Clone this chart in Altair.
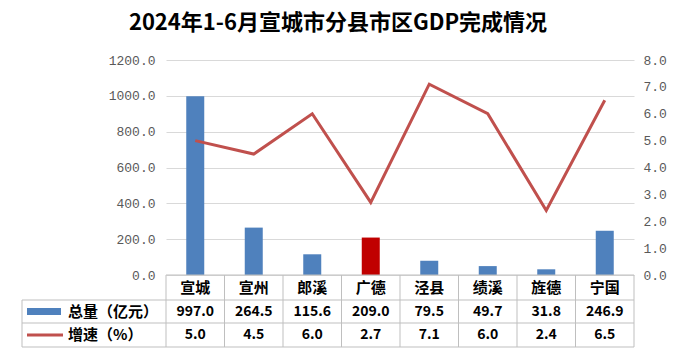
import altair as alt
import pandas as pd

categories = ["宣城", "宣州", "郎溪", "广德", "泾县", "绩溪", "旌德", "宁国"]
totals = [997.0, 264.5, 115.6, 209.0, 79.5, 49.7, 31.8, 246.9]
growth = [5.0, 4.5, 6.0, 2.7, 7.1, 6.0, 2.4, 6.5]
highlight = "广德"
title_text = "2024年1-6月宣城市分县市区GDP完成情况"
row_label_total = "总量（亿元）"
row_label_growth = "增速（%）"

df = pd.DataFrame({"cat": categories, "total": totals, "growth": growth})

W, H = 468, 215
FONT = "Noto Sans CJK SC"
NUMFONT = "Liberation Mono"
BLUE = "#4F81BD"
RED = "#C00000"
LINE = "#C0504D"
GRID = "#D9D9D9"
BORDER = "#BFBFBF"

xs = alt.Scale(domain=categories, paddingInner=0, paddingOuter=0)
X = alt.X("cat:N", scale=xs, sort=categories, axis=None)

one = pd.DataFrame({"a": [0]})

bars = alt.Chart(df).mark_bar(size=18).encode(
    x=X,
    y=alt.Y("total:Q", scale=alt.Scale(domain=[0, 1200]),
            axis=alt.Axis(values=[0, 200, 400, 600, 800, 1000, 1200], format=".1f",
                          title=None, ticks=False, domain=False, grid=True,
                          gridColor=GRID, labelFont=NUMFONT, labelFontSize=13,
                          labelColor="#595959", labelPadding=11)),
    color=alt.condition(alt.datum.cat == highlight, alt.value(RED), alt.value(BLUE)),
)

line = alt.Chart(df).mark_line(color=LINE, strokeWidth=3).encode(
    x=X,
    y=alt.Y("growth:Q", scale=alt.Scale(domain=[0, 8]),
            axis=alt.Axis(orient="right", values=[0, 1, 2, 3, 4, 5, 6, 7, 8], format=".1f",
                          title=None, ticks=False, domain=False, grid=False,
                          labelFont=NUMFONT, labelFontSize=13,
                          labelColor="#595959", labelPadding=9)),
)

# table grid
vlines = alt.Chart(df).mark_rule(color=BORDER, strokeWidth=1).encode(
    x=alt.X("cat:N", scale=xs, sort=categories, axis=None, bandPosition=0),
    y=alt.value(H), y2=alt.value(H + 72),
)
vright = alt.Chart(one).mark_rule(color=BORDER).encode(
    x=alt.value(W), y=alt.value(H), y2=alt.value(H + 72))
vleft = alt.Chart(one).mark_rule(color=BORDER).encode(
    x=alt.value(-144), y=alt.value(H + 25), y2=alt.value(H + 72))
htop = alt.Chart(one).mark_rule(color=BORDER).encode(
    x=alt.value(0), x2=alt.value(W), y=alt.value(H))
h1 = alt.Chart(one).mark_rule(color=BORDER).encode(
    x=alt.value(-144), x2=alt.value(W), y=alt.value(H + 25))
h2 = alt.Chart(one).mark_rule(color=BORDER).encode(
    x=alt.value(-144), x2=alt.value(W), y=alt.value(H + 48))
h3 = alt.Chart(one).mark_rule(color=BORDER).encode(
    x=alt.value(-144), x2=alt.value(W), y=alt.value(H + 72))

cat_text = alt.Chart(df).mark_text(font=FONT, fontSize=15, fontWeight="bold",
                                    color="#000000", baseline="middle").encode(
    x=X, y=alt.value(H + 13), text="cat:N")
tot_text = alt.Chart(df).mark_text(font=FONT, fontSize=14, fontWeight="bold",
                                    color="#000000", baseline="middle").encode(
    x=X, y=alt.value(H + 36.5), text=alt.Text("total:Q", format=".1f"))
gr_text = alt.Chart(df).mark_text(font=FONT, fontSize=14, fontWeight="bold",
                                   color="#000000", baseline="middle").encode(
    x=X, y=alt.value(H + 60), text=alt.Text("growth:Q", format=".1f"))

sw_bar = alt.Chart(one).mark_rect(color=BLUE).encode(
    x=alt.value(-139), x2=alt.value(-105), y=alt.value(H + 33), y2=alt.value(H + 40))
sw_line = alt.Chart(one).mark_rule(color=LINE, strokeWidth=3).encode(
    x=alt.value(-139), x2=alt.value(-103), y=alt.value(H + 60))
lab_tot = alt.Chart(one).mark_text(font=FONT, fontSize=15, fontWeight="bold", align="left",
                                    baseline="middle", color="#000000").encode(
    x=alt.value(-98), y=alt.value(H + 36.5), text=alt.value(row_label_total))
lab_gr = alt.Chart(one).mark_text(font=FONT, fontSize=15, fontWeight="bold", align="left",
                                   baseline="middle", color="#000000").encode(
    x=alt.value(-98), y=alt.value(H + 60), text=alt.value(row_label_growth))

chart = alt.layer(
    bars, line, vlines, vright, vleft, htop, h1, h2, h3,
    cat_text, tot_text, gr_text, sw_bar, sw_line, lab_tot, lab_gr,
).resolve_scale(y="independent").properties(
    width=W, height=H,
    title=alt.TitleParams(title_text, font=FONT, fontSize=22, fontWeight="bold",
                          color="#000000", anchor="middle", dx=-62, offset=19),
    autosize=alt.AutoSizeParams(type="none"),
    padding={"left": 158, "top": 52, "right": 34, "bottom": 75},
).configure_view(stroke=None)

chart.save("out.html", embed_options={"renderer": "svg", "actions": False})
